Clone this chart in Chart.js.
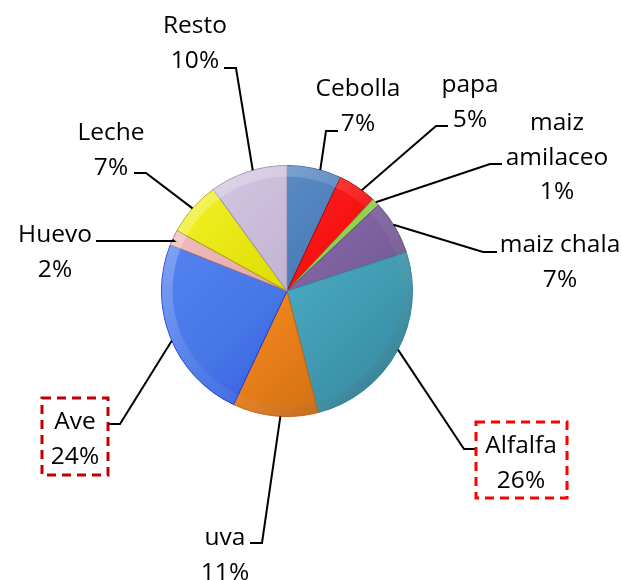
<!DOCTYPE html>
<html>
<head>
<meta charset="utf-8">
<script src="https://cdn.jsdelivr.net/npm/chart.js@4.4.1/dist/chart.umd.min.js"></script>
<style>
    html, body { margin: 0; padding: 0; background: #fff; }
    #wrap { position: relative; width: 621px; height: 580px; }
</style>
</head>
<body>
<div id="wrap"><canvas id="pieChart"></canvas></div>
<script>
// chart data
const categories = ['Cebolla', 'papa', 'maiz amilaceo', 'maiz chala', 'Alfalfa', 'uva', 'Ave', 'Huevo', 'Leche', 'Resto'];
const percentages = [7, 5, 1, 7, 26, 11, 24, 2, 7, 10];

// slice colours: base, lighter tone, edge
const baseColors  = ['#4A7CB6', '#F81010', '#92D050', '#8064A2', '#48A6BF', '#F0841C', '#4675E6', '#E2A8A5', '#DEDC00', '#C1B2D2'];
const lightColors = ['#6A9AD2', '#FF4040', '#B4E47A', '#A088C4', '#78D4EA', '#FF9E40', '#5A8AF6', '#F2C6C4', '#F6F630', '#D8CCE6'];
const edgeColors  = ['#3A6499', '#B00000', '#6C9E38', '#5E4880', '#33869C', '#C0640E', '#1E36DC', '#B07876', '#A6A400', '#9C8CB0'];

// label layout (text baseline of first line, leader elbow and end, where on the arc the leader starts)
const labelLayout = [
    { x: 358, y: 96,  frac: 0.61, elbow: [326, 131], end: [338, 131] },
    { x: 470, y: 92,  frac: 0.63, elbow: [436, 126], end: [448, 126] },
    { x: 557, y: 130, frac: 0.50, elbow: [490, 164], end: [502, 164], wrap: true },
    { x: 560, y: 252, frac: 0.45, elbow: [483, 252], end: [497, 252] },
    { x: 521, y: 453, frac: 0.49, elbow: [464, 449], end: [476, 449], box: [476, 422, 567, 498, '#FF0000'] },
    { x: 225, y: 545, frac: 0.44, elbow: [262, 543], end: [250, 543] },
    { x: 75,  y: 429, frac: 0.48, elbow: [120, 424], end: [108, 424], box: [42, 398, 108, 475, '#C00000'] },
    { x: 55,  y: 242, frac: 0.35, elbow: [174, 241], end: [96, 241] },
    { x: 111, y: 140, frac: 0.49, elbow: [146, 173], end: [134, 173] },
    { x: 195, y: 33,  frac: 0.56, elbow: [236, 68],  end: [224, 68] },
];
const lineGap = 34.5;
const labelFont = '24.5px "Open Sans"';

function sliceFill(context) {
    const chart = context.chart;
    const area = chart.chartArea;
    const i = context.dataIndex;
    if (!area) return baseColors[i];
    const g = chart.ctx.createLinearGradient(area.left, area.top, area.right, area.bottom);
    g.addColorStop(0, lightColors[i]);
    g.addColorStop(0.5, baseColors[i]);
    g.addColorStop(1, edgeColors[i]);
    return g;
}

// soft bevel ring round the pie
const bevel = {
    id: 'bevel',
    afterDatasetsDraw(chart) {
        const arc = chart.getDatasetMeta(0).data[0];
        const p = arc.getProps(['x', 'y', 'outerRadius'], true);
        const ctx = chart.ctx;
        ctx.save();
        ctx.beginPath();
        ctx.arc(p.x, p.y, p.outerRadius, 0, Math.PI * 2);
        ctx.clip();
        const g = ctx.createLinearGradient(p.x - p.outerRadius, p.y - p.outerRadius, p.x + p.outerRadius, p.y + p.outerRadius);
        g.addColorStop(0, 'rgba(255,255,255,0.35)');
        g.addColorStop(0.5, 'rgba(255,255,255,0.05)');
        g.addColorStop(1, 'rgba(0,0,0,0.18)');
        ctx.strokeStyle = g;
        ctx.lineWidth = 14;
        ctx.beginPath();
        ctx.arc(p.x, p.y, p.outerRadius - 4, 0, Math.PI * 2);
        ctx.stroke();
        ctx.restore();
    }
};

const leaderLabels = {
    id: 'leaderLabels',
    afterDatasetsDraw(chart) {
        const ctx = chart.ctx;
        const arcs = chart.getDatasetMeta(0).data;
        ctx.save();
        labelLayout.forEach((lay, i) => {
            const arc = arcs[i];
            const p = arc.getProps(['x', 'y', 'startAngle', 'endAngle', 'outerRadius'], true);
            const a = p.startAngle + lay.frac * (p.endAngle - p.startAngle);
            const sx = p.x + p.outerRadius * Math.cos(a);
            const sy = p.y + p.outerRadius * Math.sin(a);

            // leader line
            ctx.strokeStyle = '#000';
            ctx.lineWidth = 2;
            ctx.beginPath();
            ctx.moveTo(sx, sy);
            ctx.lineTo(lay.elbow[0], lay.elbow[1]);
            ctx.lineTo(lay.end[0], lay.end[1]);
            ctx.stroke();

            // text
            const lines = lay.wrap ? categories[i].split(' ') : [categories[i]];
            lines.push(percentages[i] + '%');
            ctx.fillStyle = '#000';
            ctx.font = labelFont;
            ctx.textAlign = 'center';
            ctx.textBaseline = 'alphabetic';
            lines.forEach((t, k) => ctx.fillText(t, lay.x, lay.y + k * lineGap));

            // dashed highlight box
            if (lay.box) {
                const [x1, y1, x2, y2, col] = lay.box;
                ctx.strokeStyle = col;
                ctx.lineWidth = 3;
                ctx.setLineDash([9, 6]);
                ctx.strokeRect(x1, y1, x2 - x1, y2 - y1);
                ctx.setLineDash([]);
            }
        });
        ctx.restore();
    }
};

new Chart(document.getElementById('pieChart'), {
    type: 'pie',
    data: {
        labels: categories,
        datasets: [{
            data: percentages,
            backgroundColor: sliceFill,
            borderColor: edgeColors,
            borderWidth: 1,
        }],
    },
    options: {
        responsive: true,
        maintainAspectRatio: false,
        animation: false,
        layout: { padding: { left: 161, right: 208, top: 165, bottom: 163 } },
        plugins: {
            legend: { display: false },
            tooltip: { enabled: false },
        },
    },
    plugins: [bevel, leaderLabels],
});
</script>
</body>
</html>
